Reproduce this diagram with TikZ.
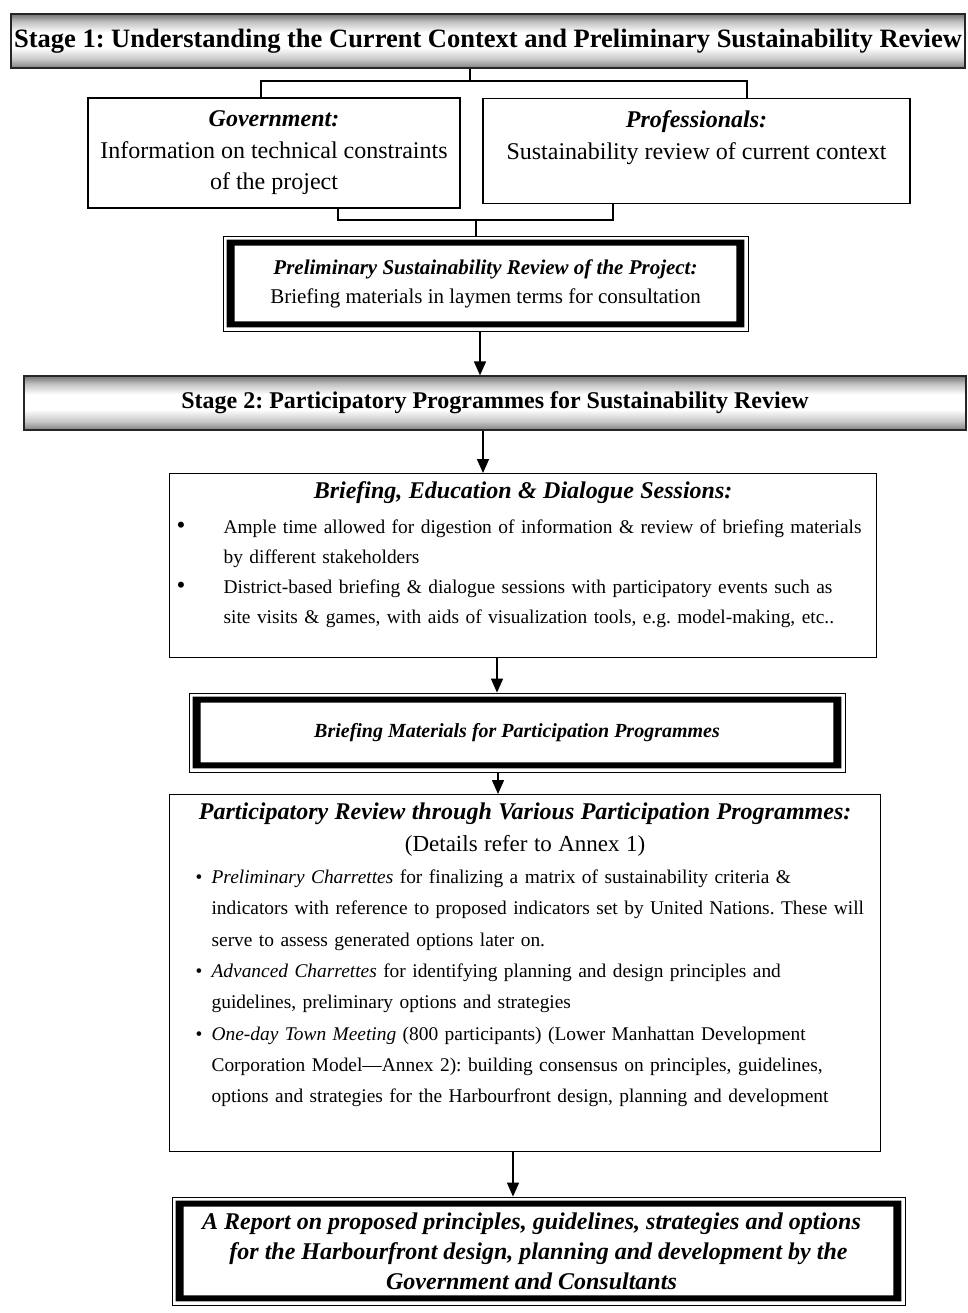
\documentclass[tikz,border=0pt]{standalone}
\usepackage{fontspec}
\setmainfont{Liberation Serif}
\usetikzlibrary{arrows.meta}
\pgfdeclareverticalshading{bannershade}{100bp}{color(0bp)=(black!50); color(25bp)=(black!50); color(33bp)=(black!22); color(44bp)=(white); color(58bp)=(white); color(68bp)=(black!25); color(75bp)=(black!55); color(100bp)=(black!55)}
\newcommand\dblband[1]{\fill[even odd rule] ([shift={(4,4)}]#1.north west) rectangle ([shift={(-4,-4)}]#1.south east) ([shift={(12,10)}]#1.north west) rectangle ([shift={(-12,-10)}]#1.south east);}
\newcommand\bigbul{\raisebox{0.5pt}{\scalebox{1.3}{\textbullet}}}
\begin{document}
\frenchspacing
\begin{tikzpicture}[x=1pt,y=-1pt,
  box/.style={draw, line width=1.2pt, inner sep=0pt, align=center},
  dblbox/.style={draw, line width=0.8pt, inner sep=0pt, align=center},
  banner/.style={draw=black!85, line width=1.2pt, shading=bannershade, inner sep=0pt},
  listbox/.style={draw, line width=1.2pt, inner xsep=8pt, inner ysep=8pt, anchor=north west},
  con/.style={line width=1.5pt},
  arr/.style={line width=1.5pt, -{Triangle[width=12pt,length=14pt]}}]
\useasboundingbox (0,0) rectangle (967,1313);

% Stage 1
\node[banner, minimum width=954pt, minimum height=54pt, font=\fontsize{26.5}{30}\selectfont\bfseries] (s1) at (488,41) {Stage 1: Understanding the Current Context and Preliminary Sustainability Review};

\node[box, minimum width=372pt, minimum height=110pt, font=\fontsize{24}{31.5}\selectfont] (gov) at (274,153)
  {\textbf{\textit{Government:}}\\Information on technical constraints\\of the project};
\node[box, minimum width=427pt, minimum height=105pt, font=\fontsize{24}{31.5}\selectfont] (prof) at (696.5,151)
  {\textbf{\textit{Professionals:}}\\Sustainability review of current context\\\mbox{}};

\coordinate (jt) at (470,81);
\coordinate (jl) at (261,81);
\coordinate (jr) at (747,81);
\draw[con] (s1.south -| jt) -- (jt);
\draw[con] (jl |- gov.north) -- (jl) -- (jr) -- (jr |- prof.north);

\node[dblbox, minimum width=525pt, minimum height=95pt, font=\fontsize{21}{29}\selectfont] (prelim) at (485.5,283.5)
  {\textbf{\textit{Preliminary Sustainability Review of the Project:}}\\Briefing materials in laymen terms for consultation};
\dblband{prelim}

\coordinate (bl) at (338,220);
\coordinate (br) at (613,220);
\coordinate (bm) at (476,220);
\draw[con] (bl |- gov.south) -- (bl) -- (br) -- (br |- prof.south);
\draw[con] (bm) -- (bm |- prelim.north);

% Stage 2
\node[banner, minimum width=942pt, minimum height=54pt, font=\fontsize{24}{28}\selectfont\bfseries] (s2) at (495,403) {Stage 2: Participatory Programmes for Sustainability Review};

\coordinate (ax1) at (480,0);
\draw[arr] (prelim.south -| ax1) -- (s2.north -| ax1);

\node[listbox, text width=691pt, font=\fontsize{19.4}{30}\selectfont] (brief) at (169,473) {%
{\centering\fontsize{24}{30}\selectfont\bfseries\itshape Briefing, Education \& Dialogue Sessions:\par}
\vspace{5pt}
\noindent\mbox{\makebox[46pt][l]{\hspace*{-1pt}\bigbul}Ample time allowed for digestion of information \& review of briefing materials}\par
\noindent\mbox{\hspace*{46pt}by different stakeholders}\par
\noindent\mbox{\makebox[46pt][l]{\hspace*{-1pt}\bigbul}District-based briefing \& dialogue sessions with participatory events such as}\par
\noindent\mbox{\hspace*{46pt}site visits \& games, with aids of visualization tools, e.g. model-making, etc..}\rule[-26pt]{0pt}{0pt}\par};

\coordinate (ax2) at (483,0);
\draw[arr] (s2.south -| ax2) -- (brief.north -| ax2);

\node[dblbox, minimum width=656pt, minimum height=79pt, font=\fontsize{20}{26}\selectfont\bfseries\itshape] (bm) at (517,732.5)
  {Briefing Materials for Participation Programmes};
\dblband{bm}

\coordinate (ax3) at (497,0);
\draw[arr] (brief.south -| ax3) -- (bm.north -| ax3);

\node[listbox, text width=695pt, font=\fontsize{19.4}{31.3}\selectfont] (part) at (169,794) {%
{\centering\fontsize{24}{32}\selectfont\bfseries\itshape Participatory Review through Various Participation Programmes:\par}
{\centering\fontsize{23}{32}\selectfont (Details refer to Annex 1)\par}
\vspace{1pt}
\noindent\mbox{\hspace*{18pt}\makebox[16pt][l]{\textbullet}\textit{Preliminary Charrettes} for finalizing a matrix of sustainability criteria \&}\par
\noindent\mbox{\hspace*{34pt}indicators with reference to proposed indicators set by United Nations. These will}\par
\noindent\mbox{\hspace*{34pt}serve to assess generated options later on.}\par
\noindent\mbox{\hspace*{18pt}\makebox[16pt][l]{\textbullet}\textit{Advanced Charrettes} for identifying planning and design principles and}\par
\noindent\mbox{\hspace*{34pt}guidelines, preliminary options and strategies}\par
\noindent\mbox{\hspace*{18pt}\makebox[16pt][l]{\textbullet}\textit{One-day Town Meeting} (800 participants) (Lower Manhattan Development}\par
\noindent\mbox{\hspace*{34pt}Corporation Model---Annex 2): building consensus on principles, guidelines,}\par
\noindent\mbox{\hspace*{34pt}options and strategies for the Harbourfront design, planning and development}\rule[-41pt]{0pt}{0pt}\par};

\coordinate (ax4) at (498,0);
\draw[arr] (bm.south -| ax4) -- (part.north -| ax4);

\node[dblbox, minimum width=733pt, minimum height=108pt, font=\fontsize{24}{30}\selectfont\bfseries\itshape] (rep) at (538.5,1251)
  {A Report on proposed principles, guidelines, strategies and options\hspace*{14pt}\\for the Harbourfront design, planning and development by the\hspace*{14pt}\\Government and Consultants\hspace*{14pt}};
\dblband{rep}

\coordinate (ax5) at (513,0);
\draw[arr] (part.south -| ax5) -- (rep.north -| ax5);
\end{tikzpicture}
\end{document}
